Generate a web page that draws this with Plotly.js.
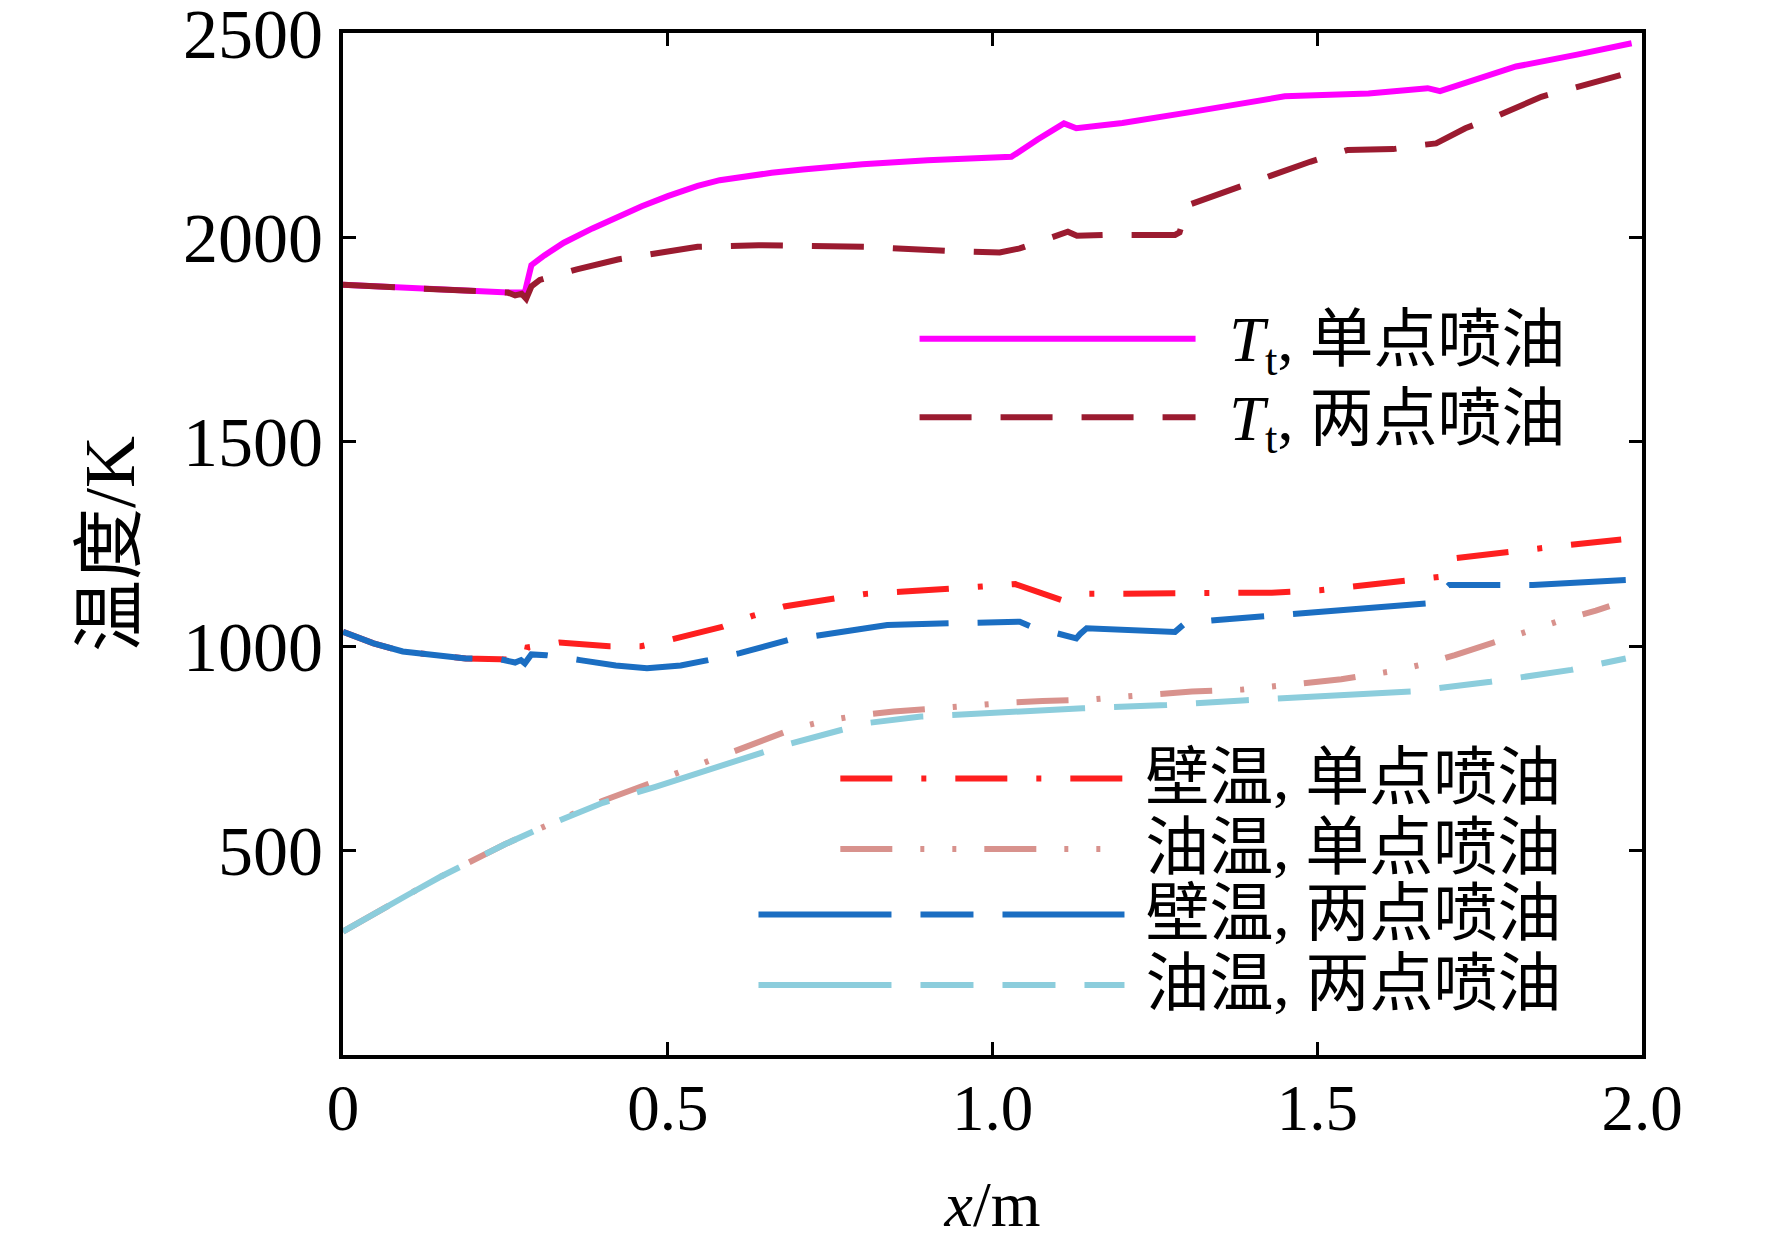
<!DOCTYPE html>
<html>
<head>
<meta charset="utf-8">
<script src="https://cdn.plot.ly/plotly-3.0.1.min.js"></script>
<style>
body { margin: 0; background: #fff; }
#graphe { width: 1772px; height: 1240px; }
</style>
</head>
<body>
<div id="graphe"></div>
<script>
// Valeurs : x en m, température en K

// Tt, injection en un point
var x_tt1 = [0, 0.1, 0.2, 0.254, 0.28, 0.29, 0.31, 0.34, 0.384, 0.42, 0.46, 0.5, 0.546, 0.58, 0.62, 0.66, 0.708, 0.8, 0.9, 1.011, 1.029, 1.07, 1.11, 1.129, 1.2, 1.307, 1.38, 1.45, 1.579, 1.67, 1.689, 1.75, 1.806, 1.9, 1.984];
var y_tt1 = [1884, 1876, 1868, 1865, 1866, 1932, 1956, 1987, 2022, 2049, 2076, 2101, 2126, 2140, 2150, 2158, 2166, 2179, 2189, 2197, 2197, 2240, 2279, 2267, 2280, 2307, 2327, 2345, 2352, 2365, 2358, 2390, 2418, 2447, 2475];

// Tt, injection en deux points
var x_tt2 = [0, 0.1, 0.2, 0.254, 0.265, 0.275, 0.282, 0.29, 0.303, 0.36, 0.423, 0.49, 0.546, 0.64, 0.805, 0.928, 1.011, 1.042, 1.093, 1.116, 1.13, 1.171, 1.281, 1.288, 1.301, 1.372, 1.489, 1.547, 1.617, 1.661, 1.683, 1.728, 1.774, 1.845, 1.967];
var y_tt2 = [1884, 1876, 1868, 1865, 1858, 1862, 1850, 1880, 1896, 1922, 1946, 1964, 1977, 1981, 1977, 1967, 1963, 1973, 2002, 2014, 2004, 2006, 2006, 2012, 2079, 2120, 2185, 2214, 2216, 2226, 2230, 2267, 2295, 2344, 2397];

// température de paroi, un point
var x_paroi1 = [0, 0.047, 0.092, 0.14, 0.189, 0.242, 0.28, 0.284, 0.333, 0.41, 0.459, 0.507, 0.585, 0.63, 0.679, 0.757, 0.805, 0.858, 0.935, 0.984, 1.035, 1.106, 1.149, 1.23, 1.323, 1.43, 1.504, 1.553, 1.631, 1.68, 1.69, 1.705, 1.787, 1.838, 1.89, 1.968];
var y_paroi1 = [1035, 1007, 987, 977, 970, 968, 966, 997, 1009, 1000, 1000, 1017, 1048, 1074, 1097, 1117, 1128, 1133, 1139, 1146, 1152, 1113, 1128, 1128, 1129, 1131, 1137, 1146, 1158, 1166, 1170, 1214, 1230, 1237, 1248, 1261];

// température de l'huile, un point
var x_huile1 = [0, 0.05, 0.1, 0.15, 0.2, 0.25, 0.3, 0.35, 0.4, 0.48, 0.527, 0.575, 0.624, 0.695, 0.745, 0.799, 0.848, 0.925, 0.974, 1.025, 1.077, 1.155, 1.204, 1.255, 1.307, 1.385, 1.433, 1.489, 1.537, 1.612, 1.664, 1.712, 1.761, 1.835, 1.881, 1.929, 1.95];
var y_huile1 = [302, 349, 392, 436, 478, 516, 552, 586, 622, 669, 697, 727, 758, 799, 818, 832, 840, 850, 854, 862, 866, 870, 877, 883, 889, 894, 903, 911, 919, 938, 956, 978, 1003, 1044, 1066, 1087, 1098];

// température de paroi, deux points
var x_paroi2 = [0, 0.047, 0.092, 0.14, 0.189, 0.242, 0.265, 0.274, 0.28, 0.29, 0.313, 0.365, 0.42, 0.468, 0.52, 0.562, 0.611, 0.685, 0.734, 0.79, 0.838, 0.935, 1.011, 1.042, 1.058, 1.11, 1.129, 1.135, 1.145, 1.281, 1.297, 1.346, 1.424, 1.475, 1.673, 1.703, 1.782, 1.832, 1.975];
var y_paroi2 = [1035, 1007, 987, 977, 970, 968, 960, 966, 958, 980, 978, 966, 953, 946, 953, 966, 983, 1015, 1027, 1042, 1052, 1056, 1058, 1060, 1049, 1027, 1019, 1030, 1044, 1035, 1057, 1064, 1074, 1080, 1105, 1150, 1150, 1150, 1162];

// température de l'huile, deux points
var x_huile2 = [0, 0.05, 0.1, 0.15, 0.2, 0.25, 0.3, 0.35, 0.4, 0.481, 0.6, 0.689, 0.767, 0.812, 0.89, 0.996, 1.139, 1.268, 1.391, 1.644, 1.767, 1.891, 1.975];
var y_huile2 = [302, 349, 392, 436, 478, 516, 552, 586, 617, 656, 718, 762, 795, 813, 828, 837, 848, 856, 868, 889, 913, 942, 970];

var noms = [
	'\u2009<i>T</i><sub>t</sub>, 单点喷油',
	'\u2009<i>T</i><sub>t</sub>, 两点喷油',
	'壁温, 单点喷油',
	'油温, 单点喷油',
	'壁温, 两点喷油',
	'油温, 两点喷油'
];

var xticks = [0, 0.5, 1, 1.5, 2];
var xticktext = ['0', '0.5', '1.0', '1.5', '2.0'];
var yticks = [500, 1000, 1500, 2000, 2500];

var POLICE = 'Liberation Serif, "Noto Sans CJK SC", serif';

// texte de légende plus grand que l'interligne
function Nom(i)
{
	return '<span style="font-size:64px">\u00a0' + noms[i] + '</span>';
}

function Courbe(x, y, i, couleur, tirets, leg)
{
	return {
		x: x,
		y: y,
		name: Nom(i),
		type: 'scatter',
		mode: 'lines',
		line: { color: couleur, width: 6, dash: tirets },
		legend: leg
	};
}

var traces = [
	Courbe(x_tt1, y_tt1, 0, '#ff00ff', 'solid', 'legend'),
	Courbe(x_tt2, y_tt2, 1, '#9b1b30', '52px,29px', 'legend'),
	Courbe(x_paroi1, y_paroi1, 2, '#fe1f1f', '52px,29px,5px,29px', 'legend2'),
	Courbe(x_huile1, y_huile1, 3, '#d8928d', '52px,28px,4px,28px,4px,28px', 'legend2'),
	Courbe(x_paroi2, y_paroi2, 4, '#1b6ec2', '133px,29px,53px,29px', 'legend3'),
	Courbe(x_huile2, y_huile2, 5, '#8ccddc', '133px,29px,53px,29px,53px,29px', 'legend3')
];

function Axe(titre, taille, taille_ticks)
{
	return {
		title: { text: titre, font: { family: POLICE, size: taille, color: '#000' } },
		showline: true,
		linecolor: '#000',
		linewidth: 4,
		mirror: 'ticks',
		ticks: 'inside',
		ticklen: 13,
		tickwidth: 3,
		tickcolor: '#000',
		showgrid: false,
		zeroline: false,
		ticklabeloverflow: 'allow',
		tickfont: { family: POLICE, size: taille_ticks, color: '#000' }
	};
}

var xaxis = Axe('<i>x</i>/m', 64, 65);
xaxis.range = [0, 2];
xaxis.tickvals = xticks;
xaxis.ticktext = xticktext;
xaxis.ticklabelstandoff = -7;
xaxis.title.standoff = 48;

var yaxis = Axe('温度/K', 72, 70);
yaxis.range = [0, 2500];
yaxis.tickvals = yticks;
yaxis.ticklabelstandoff = 2;
yaxis.title.standoff = 26;

function Legende(x, y, taille, largeur)
{
	return {
		x: x, y: y,
		xanchor: 'left', yanchor: 'top',
		bgcolor: 'rgba(0,0,0,0)',
		borderwidth: 0,
		itemwidth: largeur,
		traceorder: 'normal',
		font: { family: POLICE, size: taille, color: '#000' }
	};
}

var layout = {
	width: 1772,
	height: 1240,
	margin: { l: 343, r: 130, t: 33, b: 185 },
	paper_bgcolor: '#fff',
	plot_bgcolor: '#fff',
	showlegend: true,
	xaxis: xaxis,
	yaxis: yaxis,
	legend: Legende(0.440, 0.744, 58, 276),
	legend2: Legende(0.379, 0.310, 52, 284),
	legend3: Legende(0.316, 0.177, 52, 366)
};

Plotly.newPlot('graphe', traces, layout, { staticPlot: true });
</script>
</body>
</html>
